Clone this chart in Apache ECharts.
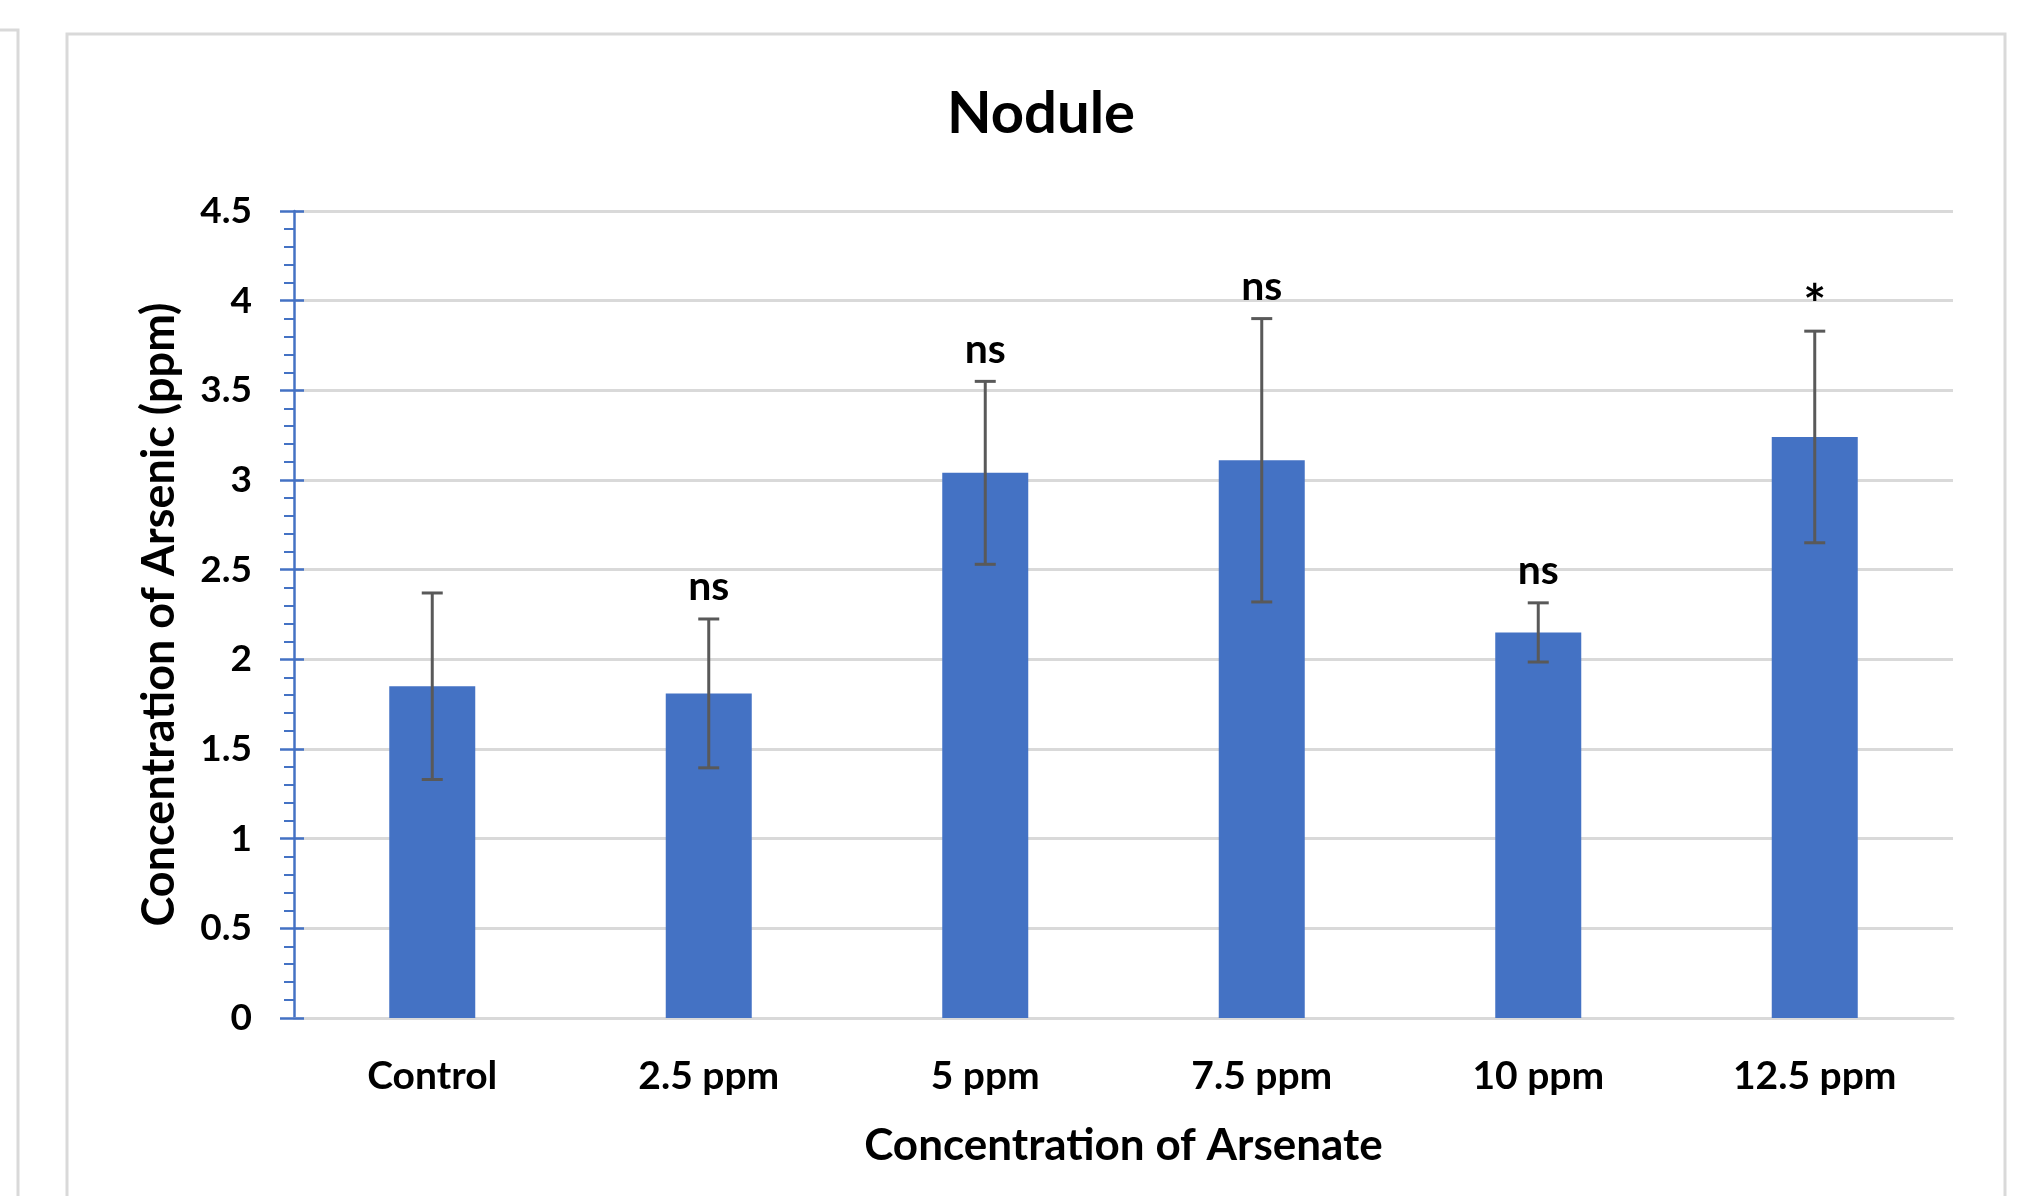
<!DOCTYPE html>
<html>
<head>
<meta charset="utf-8">
<script src="https://cdn.jsdelivr.net/npm/echarts@6/dist/echarts.min.js"></script>
<style>
html,body{margin:0;padding:0;background:#fff;}
#c{width:2030px;height:1196px;}
</style>
</head>
<body>
<div id="c"></div>
<script>
const categories = ["Control", "2.5 ppm", "5 ppm", "7.5 ppm", "10 ppm", "12.5 ppm"];
const means = [1.85, 1.81, 3.04, 3.11, 2.15, 3.24];
const errors = [0.52, 0.415, 0.51, 0.79, 0.165, 0.59];
const significance = ["", "ns", "ns", "ns", "ns", "*"];
const yTicks = [0, 0.5, 1, 1.5, 2, 2.5, 3, 3.5, 4, 4.5];

const FONT = "Lato";
const BLUE = "#4472C4";
const GRID_GREY = "#D9D9D9";

const chart = echarts.init(document.getElementById("c"), null, {renderer: "canvas"});

const errData = categories.map((c, i) => [i, means[i], errors[i]]);

const option = {
  backgroundColor: "#ffffff",
  animation: false,
  title: {
    text: "Nodule",
    left: 1036,
    textAlign: "center",
    top: 80,
    textStyle: {fontFamily: FONT, fontWeight: "bold", fontSize: 58, color: "#000"}
  },
  graphic: [
    {type: "polyline", shape: {points: [[-5, 30], [18, 30], [18, 1200]]},
     style: {stroke: GRID_GREY, lineWidth: 3, fill: null}, silent: true},
    {type: "polyline", shape: {points: [[67, 1200], [67, 34], [2005, 34], [2005, 1200]]},
     style: {stroke: GRID_GREY, lineWidth: 3, fill: null}, silent: true}
  ],
  grid: {left: 294, right: 77, top: 211, bottom: 178, containLabel: false},
  xAxis: {
    type: "category",
    data: categories,
    name: "Concentration of Arsenate",
    nameLocation: "middle",
    nameGap: 106,
    nameTextStyle: {fontFamily: FONT, fontWeight: "bold", fontSize: 44, color: "#000"},
    axisLine: {show: true, lineStyle: {color: GRID_GREY, width: 3}},
    axisTick: {show: false},
    axisLabel: {margin: 39, fontFamily: FONT, fontWeight: "bold", fontSize: 39, color: "#000"},
    splitLine: {show: false}
  },
  yAxis: [
    {
      type: "value",
      position: "left",
      min: 0, max: 4.5, interval: 0.5,
      name: "Concentration of Arsenic (ppm)",
      nameLocation: "middle",
      nameRotate: 90,
      nameGap: 112,
      nameTextStyle: {fontFamily: FONT, fontWeight: "bold", fontSize: 45, color: "#000"},
      axisLine: {show: true, lineStyle: {color: BLUE, width: 2.5}},
      axisTick: {show: true, inside: false, length: 14, lineStyle: {color: BLUE, width: 2.5}},
      minorTick: {show: true, splitNumber: 5, length: 10, lineStyle: {color: BLUE, width: 2}},
      axisLabel: {
        margin: 42, fontFamily: FONT, fontWeight: "bold", fontSize: 37, color: "#000",
        formatter: v => String(yTicks.find(t => Math.abs(t - v) < 1e-9) ?? v)
      },
      splitLine: {show: true, lineStyle: {color: GRID_GREY, width: 3}}
    },
    {
      type: "value",
      position: "left",
      offset: 0,
      min: 0, max: 4.5, interval: 0.5,
      axisLine: {show: false},
      axisTick: {show: true, inside: true, length: 10, lineStyle: {color: BLUE, width: 2.5}},
      minorTick: {show: false},
      axisLabel: {show: false},
      splitLine: {show: false}
    }
  ],
  series: [
    {
      type: "bar",
      data: means,
      barWidth: 86,
      itemStyle: {color: BLUE},
      z: 2
    },
    {
      type: "custom",
      data: errData,
      z: 5,
      renderItem: function (params, api) {
        const i = api.value(0);
        const m = api.value(1);
        const e = api.value(2);
        const sig = significance[params.dataIndex];
        const top = api.coord([i, m + e]);
        const bot = api.coord([i, m - e]);
        const cap = 10.5;
        const ls = {stroke: "#595959", lineWidth: 3};
        const children = [
          {type: "line", shape: {x1: top[0], y1: top[1], x2: bot[0], y2: bot[1]}, style: ls},
          {type: "line", shape: {x1: top[0] - cap, y1: top[1], x2: top[0] + cap, y2: top[1]}, style: ls},
          {type: "line", shape: {x1: bot[0] - cap, y1: bot[1], x2: bot[0] + cap, y2: bot[1]}, style: ls}
        ];
        if (sig) {
          const isStar = sig === "*";
          children.push({
            type: "text",
            style: {
              text: sig,
              x: top[0],
              y: top[1] - (isStar ? 26 : 32),
              align: "center",
              verticalAlign: "middle",
              font: "bold " + (isStar ? 54 : 41) + "px " + FONT,
              fill: "#000"
            }
          });
        }
        return {type: "group", children: children};
      }
    }
  ]
};
chart.setOption(option);
</script>
</body>
</html>
